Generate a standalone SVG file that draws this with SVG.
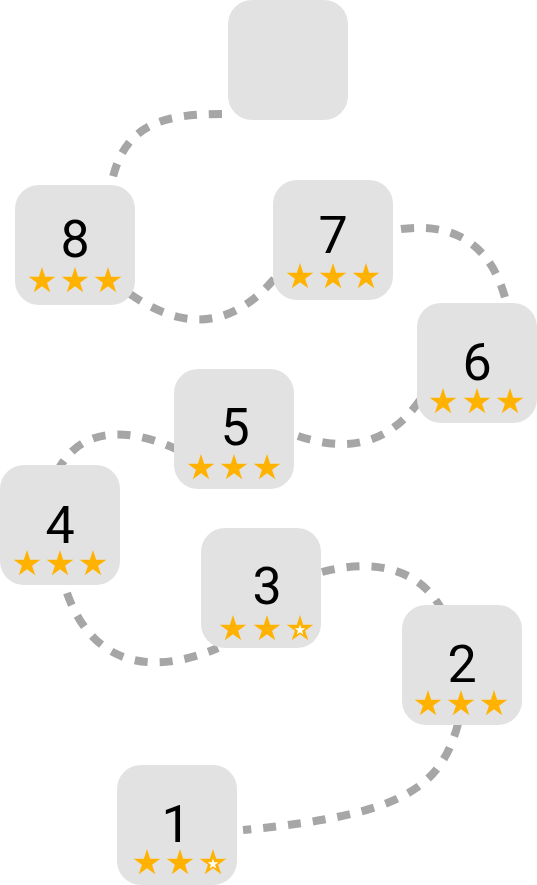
<svg xmlns="http://www.w3.org/2000/svg" xmlns:xlink="http://www.w3.org/1999/xlink" width="537" height="885" viewBox="0 0 537 885">
<style>
.box{fill:#e2e2e2}
.num{font-family:Roboto,"Liberation Sans",sans-serif;font-size:52px;fill:#000;text-anchor:middle}
.conn{fill:none;stroke:#a6a6a6;stroke-width:8;stroke-dasharray:13 12}
.star{fill:#ffb300}
.hole{fill:#ffffff}
</style>
<defs>
<polygon id="star" class="star" points="0,-14 3.145,-4.328 13.315,-4.326 5.088,1.653 8.229,11.326 0,5.35 -8.229,11.326 -5.088,1.653 -13.315,-4.326 -3.145,-4.328"/>
<g id="starO">
<use href="#star"/>
<polygon class="hole" transform="translate(0,1) scale(0.4)" points="0,-14 3.145,-4.328 13.315,-4.326 5.088,1.653 8.229,11.326 0,5.35 -8.229,11.326 -5.088,1.653 -13.315,-4.326 -3.145,-4.328"/>
</g>
</defs>
<rect width="537" height="885" fill="#ffffff"/>
<g id="connectors">
<path class="conn" d="M 222 114 C 160 114, 120 125, 110 192"/>
<path class="conn" d="M 130 294 C 175 325, 228 338, 280 272"/>
<path class="conn" d="M 401 229 C 455 222, 495 245, 508 310"/>
<path class="conn" d="M 298 436 C 340 450, 385 450, 420 400"/>
<path class="conn" d="M 178 450 C 140 432, 85 420, 58 470"/>
<path class="conn" d="M 67 593 C 85 645, 130 685, 218 648"/>
<path class="conn" d="M 322 572 C 360 562, 415 560, 442 610"/>
<path class="conn" d="M 458 724 C 440 790, 400 815, 243 830"/>
</g>
<g id="node-top">
<rect class="box" x="228" y="0" width="120" height="120" rx="24"/>
</g>
<g id="node-8">
<rect class="box" x="15" y="185" width="120" height="120" rx="24"/>
<text class="num" x="75" y="257">8</text>
<use href="#star" x="42" y="281"/><use href="#star" x="75" y="281"/><use href="#star" x="108" y="281"/>
</g>
<g id="node-7">
<rect class="box" x="273" y="180" width="120" height="120" rx="24"/>
<text class="num" x="333" y="253">7</text>
<use href="#star" x="300" y="277"/><use href="#star" x="333" y="277"/><use href="#star" x="366" y="277"/>
</g>
<g id="node-6">
<rect class="box" x="417" y="303" width="120" height="120" rx="24"/>
<text class="num" x="477" y="380">6</text>
<use href="#star" x="443" y="402"/><use href="#star" x="477" y="402"/><use href="#star" x="510" y="402"/>
</g>
<g id="node-5">
<rect class="box" x="174" y="369" width="120" height="120" rx="24"/>
<text class="num" x="235" y="445">5</text>
<use href="#star" x="201" y="468"/><use href="#star" x="234" y="468"/><use href="#star" x="267" y="468"/>
</g>
<g id="node-4">
<rect class="box" x="0" y="465" width="120" height="120" rx="24"/>
<text class="num" x="60" y="543">4</text>
<use href="#star" x="27" y="564"/><use href="#star" x="60" y="564"/><use href="#star" x="93" y="564"/>
</g>
<g id="node-3">
<rect class="box" x="201" y="528" width="120" height="120" rx="24"/>
<text class="num" x="267" y="604">3</text>
<use href="#star" x="233" y="629"/><use href="#star" x="267" y="629"/><use href="#starO" x="300" y="629"/>
</g>
<g id="node-2">
<rect class="box" x="402" y="605" width="120" height="120" rx="24"/>
<text class="num" x="462" y="682">2</text>
<use href="#star" x="428" y="704"/><use href="#star" x="461" y="704"/><use href="#star" x="494" y="704"/>
</g>
<g id="node-1">
<rect class="box" x="117" y="765" width="120" height="120" rx="24"/>
<text class="num" x="176" y="842">1</text>
<use href="#star" x="147" y="863"/><use href="#star" x="180" y="863"/><use href="#starO" x="213" y="863"/>
</g>
</svg>
